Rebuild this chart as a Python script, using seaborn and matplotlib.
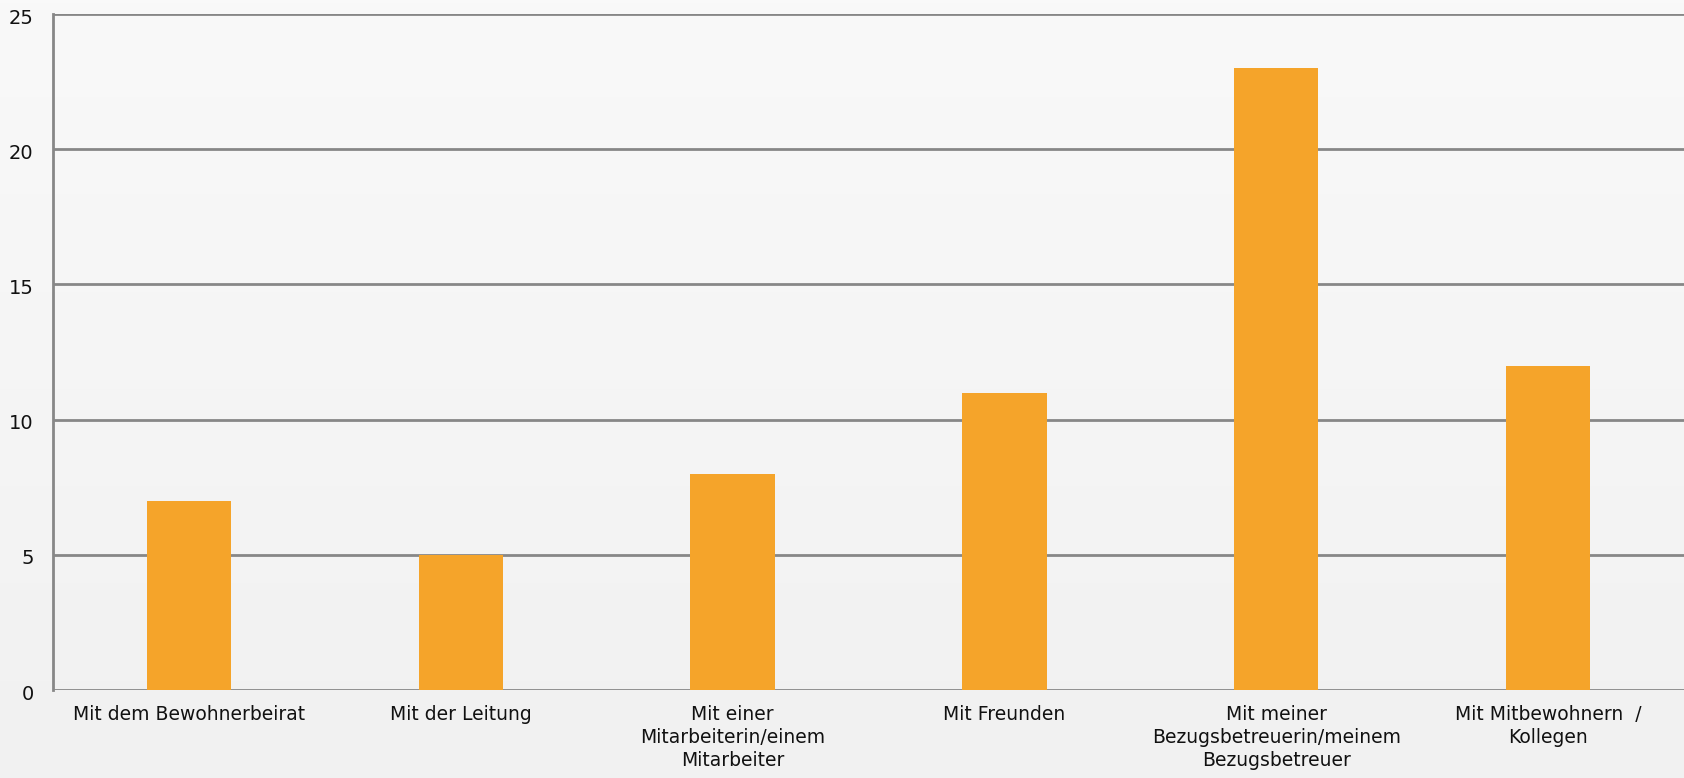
import numpy as np
import pandas as pd
import matplotlib
matplotlib.use("Agg")
import matplotlib.pyplot as plt
import matplotlib.transforms as mtransforms
import seaborn as sns
from matplotlib.colors import LinearSegmentedColormap

categories = [
    "Mit dem Bewohnerbeirat",
    "Mit der Leitung",
    "Mit einer\nMitarbeiterin/einem\nMitarbeiter",
    "Mit Freunden",
    "Mit meiner\nBezugsbetreuerin/meinem\nBezugsbetreuer",
    "Mit Mitbewohnern  /\nKollegen",
]
values = [7, 5, 8, 11, 23, 12]
yticks = [0, 5, 10, 15, 20, 25]

sns.set_theme(style="white")
plt.rcParams['font.family'] = ['DejaVu Sans']

W, H = 1684, 778
fig = plt.figure(figsize=(W / 100, H / 100), dpi=100)

# background gradient
bg = fig.add_axes([0, 0, 1, 1], zorder=-10)
grad = np.linspace(0, 1, 256).reshape(-1, 1)
cmap = LinearSegmentedColormap.from_list("bg", ["#f9f9f9", "#f1f1f1"])
bg.imshow(grad, aspect="auto", cmap=cmap, extent=[0, 1, 0, 1], origin="upper")
bg.set_axis_off()

left, right, top, bottom = 53, 1684, 14, 690
ax = fig.add_axes([left / W, (H - bottom) / H, (right - left) / W, (bottom - top) / H])
ax.patch.set_alpha(0)

df = pd.DataFrame({"cat": categories, "val": values})
sns.barplot(data=df, x="cat", y="val", color="#F5A42A", width=0.31,
            saturation=1, ax=ax, zorder=3, edgecolor="none")

ax.set_xlim(-0.5, len(categories) - 0.5)
ax.set_ylim(0, 25)
ax.set_yticks(yticks)
ax.set_yticklabels([str(t) for t in yticks])
ax.set_xlabel("")
ax.set_ylabel("")

for t in yticks:
    ax.axhline(t, color="#878787", lw=2.0, zorder=1)

for s in ["top", "right", "bottom"]:
    ax.spines[s].set_visible(False)
ax.spines["left"].set_color("#878787")
ax.spines["left"].set_linewidth(2.0)

ax.tick_params(axis="y", length=0, pad=14, labelsize=14, labelcolor="#111111")
ax.tick_params(axis="x", length=0, pad=11, labelsize=13.5, labelcolor="#111111")
offset = mtransforms.ScaledTranslation(0, -2 / 100, fig.dpi_scale_trans)
for lbl in ax.get_yticklabels():
    lbl.set_transform(lbl.get_transform() + offset)
for lbl in ax.get_xticklabels():
    lbl.set_linespacing(1.25)
    lbl.set_ha("center")

fig.savefig("out.png", dpi=100)
